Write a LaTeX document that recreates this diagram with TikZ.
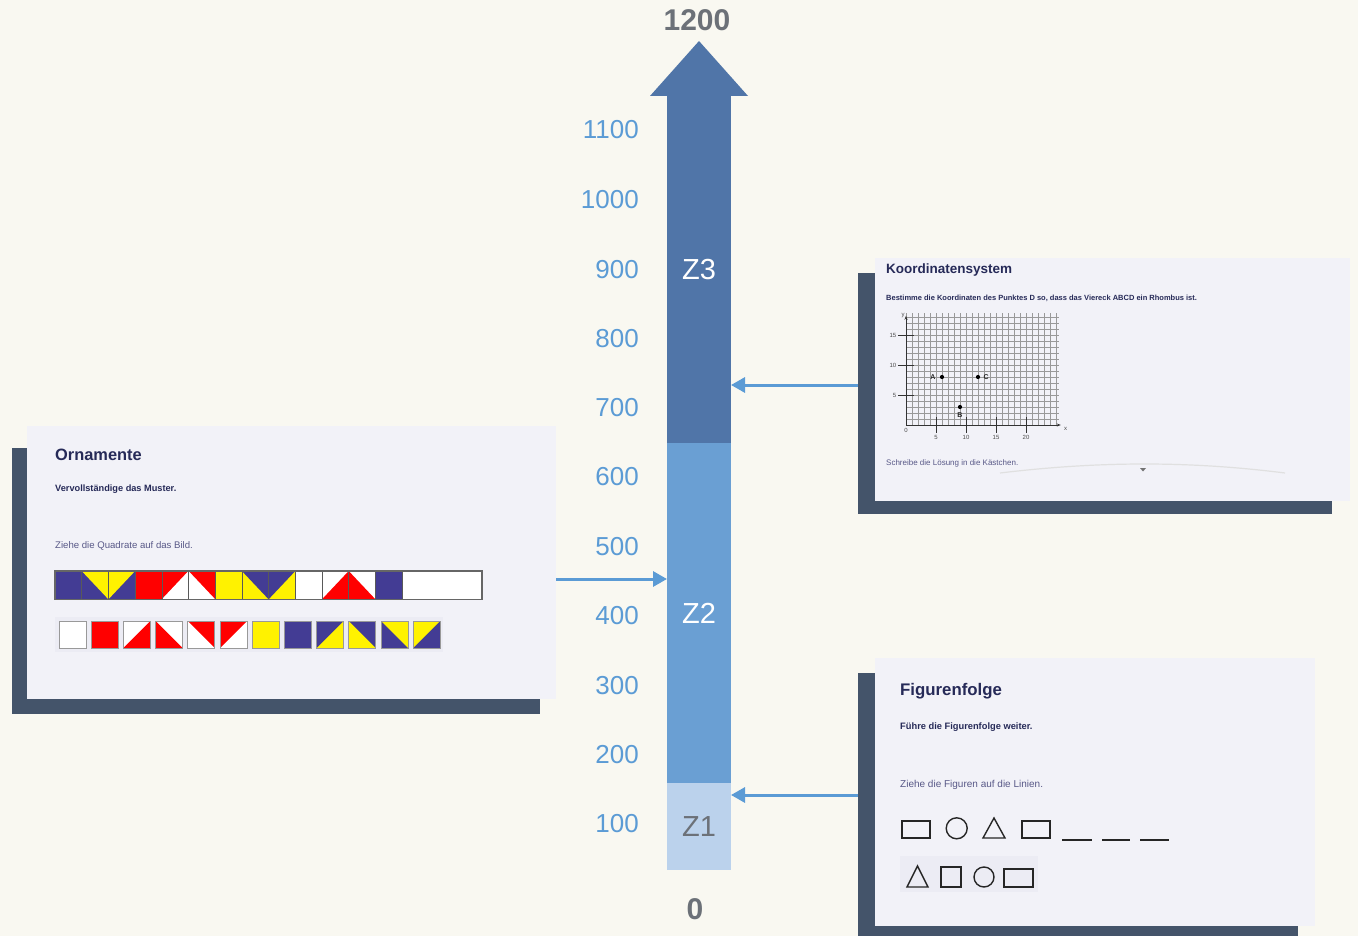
\documentclass[tikz,border=0pt]{standalone}
\usepackage{fontspec}
\setmainfont{Liberation Sans}
\usetikzlibrary{arrows.meta}
\definecolor{bgcream}{RGB}{249,248,241}
\definecolor{zthree}{RGB}{80,117,168}
\definecolor{ztwo}{RGB}{106,159,211}
\definecolor{zone}{RGB}{187,210,236}
\definecolor{ticknum}{RGB}{91,155,213}
\definecolor{endnum}{RGB}{108,113,120}
\definecolor{shade}{RGB}{68,84,106}
\definecolor{card}{RGB}{242,242,248}
\definecolor{ink}{RGB}{38,42,88}
\definecolor{inklight}{RGB}{88,88,135}
\definecolor{navy}{RGB}{67,60,148}
\definecolor{traybg}{RGB}{236,236,244}
\def\fs#1{\fontsize{#1}{#1}\selectfont}

\begin{document}
\begin{tikzpicture}[x=1pt, y=-1pt,
    zonebox/.style={inner sep=0pt, outer sep=0pt, minimum width=64pt, font=\fs{29}},
    ticklbl/.style={anchor=east, inner sep=0pt, text=ticknum, font=\fs{26}},
    endlbl/.style={inner sep=0pt, text=endnum, font=\bfseries\fs{30}},
    shadebox/.style={fill=shade, anchor=north west, inner sep=0pt, outer sep=0pt},
    cardbox/.style={fill=card, anchor=north west, inner sep=0pt, outer sep=0pt},
    ttl/.style={anchor=west, inner sep=0pt, text=ink, font=\bfseries\fs{#1}},
    sub/.style={anchor=west, inner sep=0pt, text=ink, font=\bfseries\fs{#1}},
    hint/.style={anchor=west, inner sep=0pt, text=inklight, font=\fs{#1}},
    feed/.style={draw=ticknum, line width=3pt, -{Triangle[length=14pt,width=15pt]}},
    cellline/.style={draw=black!65, line width=0.5pt},
    traycell/.style={draw=black!40, line width=1pt},
    figline/.style={draw=black!85, line width=1.4pt},
    gridline/.style={draw=black!40, line width=0.35pt},
    smallnum/.style={inner sep=0.5pt, text=black!70, font=\fs{6}},
    ptlbl/.style={inner sep=0.5pt, text=black!85, font=\bfseries\fs{7}}]
  \useasboundingbox (0,0) rectangle (1358,936);
  \fill[bgcream] (0,0) rectangle (1358,936);

  % scale bar
  \node[zonebox, fill=zone, minimum height=87pt, text=endnum] (z1) at (699,826.5) {Z1};
  \node[zonebox, fill=ztwo, minimum height=340pt, text=white] (z2) at (699,613) {Z2};
  \node[zonebox, fill=zthree, minimum height=347pt, text=white] (z3) at (699,269.5) {Z3};
  \fill[zthree] ([xshift=-17pt]z3.north west) -- ([yshift=55pt]z3.north) -- ([xshift=17pt]z3.north east) -- cycle;
  \node[endlbl] (top) at (697,20) {1200};
  \node[endlbl] (bottom) at (695,909) {0};
  \foreach \v/\h in {100/824,200/755,300/686,400/616,500/547,600/477,700/408,800/339,900/270,1000/200,1100/130}
    \node[ticklbl] (t\v) at (639,\h) {\v};

  % task cards
  \node[shadebox, minimum width=528pt, minimum height=266pt] (ornshade) at (12,448) {};
  \node[cardbox, minimum width=529pt, minimum height=273pt] (orn) at (27,426) {};
  \node[shadebox, minimum width=474pt, minimum height=241pt] (kosshade) at (858,273) {};
  \node[cardbox, minimum width=475pt, minimum height=243pt] (kos) at (875,258) {};
  \node[shadebox, minimum width=440pt, minimum height=263pt] (figshade) at (858,673) {};
  \node[cardbox, minimum width=440pt, minimum height=268pt] (fig) at (875,658) {};

  % Ornamente
  \node[ttl=16.4] (orntitle) at (55,455) {Ornamente};
  \node[sub=9.2] (ornsub) at (55,489) {Vervollständige das Muster.};
  \node[hint=9.6] (ornhint) at (55,546) {Ziehe die Quadrate auf das Bild.};
  \begin{scope}[shift={(55,571)}]
    \fill[white] (0,0) rectangle (427,28.3);
    \foreach \bg/\fg/\tri [count=\i from 0] in {
        navy/navy/(tl)--(tr)--(br), navy/yellow/(tl)--(tr)--(br), navy/yellow/(tl)--(tr)--(bl),
        red/red/(tl)--(tr)--(br), red/white/(bl)--(br)--(tr), red/white/(tl)--(bl)--(br),
        yellow/yellow/(tl)--(tr)--(br), yellow/navy/(tl)--(tr)--(br), yellow/navy/(tl)--(tr)--(bl),
        white/white/(tl)--(tr)--(br), white/red/(bl)--(br)--(tr), white/red/(tl)--(bl)--(br),
        navy/navy/(tl)--(tr)--(br)}{
      \begin{scope}[shift={(\i*26.7,0)}, x=26.7pt, y=-28.3pt]
        \coordinate (tl) at (0,0); \coordinate (tr) at (1,0);
        \coordinate (br) at (1,1); \coordinate (bl) at (0,1);
        \fill[\bg] (tl) rectangle (br);
        \fill[\fg] \tri -- cycle;
        \draw[cellline] (tl) rectangle (br);
      \end{scope}}
    \draw[draw=black!60, line width=1.5pt] (0,0) rectangle (427,28.3);
  \end{scope}
  \fill[traybg] (55,617) rectangle (443,652);
  \foreach \bg/\fg/\tri [count=\i from 0] in {
      white/white/(tl)--(tr)--(br), red/red/(tl)--(tr)--(br),
      white/red/(bl)--(br)--(tr), white/red/(tl)--(bl)--(br),
      white/red/(tl)--(tr)--(br), white/red/(tl)--(tr)--(bl),
      yellow/yellow/(tl)--(tr)--(br), navy/navy/(tl)--(tr)--(br),
      yellow/navy/(tl)--(tr)--(bl), yellow/navy/(tl)--(tr)--(br),
      navy/yellow/(tl)--(tr)--(br), navy/yellow/(tl)--(tr)--(bl)}{
    \begin{scope}[shift={(59+\i*32.2,621)}, x=27pt, y=-27pt]
      \coordinate (tl) at (0,0); \coordinate (tr) at (1,0);
      \coordinate (br) at (1,1); \coordinate (bl) at (0,1);
      \fill[\bg] (tl) rectangle (br);
      \fill[\fg] \tri -- cycle;
      \draw[traycell] (tl) rectangle (br);
    \end{scope}}

  % Koordinatensystem
  \node[ttl=13.5] (kostitle) at (886,270) {Koordinatensystem};
  \node[sub=7.5] (kossub) at (886,298) {Bestimme die Koordinaten des Punktes D so, dass das Viereck ABCD ein Rhombus ist.};
  \begin{scope}[shift={(906,425)}, x=6pt, y=6pt]
    \draw[gridline, step=1] (0,0) grid (25.5,18.6);
    \draw[black!80, line width=0.7pt, -{Stealth[length=4pt,width=3pt]}] (0,0) -- (25.8,0);
    \draw[black!80, line width=0.7pt, -{Stealth[length=4pt,width=3pt]}] (0,0) -- (0,18.2);
    \foreach \t in {5,10,15,20} {
      \draw[black!80, line width=0.7pt] (\t,-1.3) -- (\t,1.3);
      \node[smallnum] (xl\t) at (\t,-2.1) {\t};}
    \foreach \t in {5,10,15} {
      \draw[black!80, line width=0.7pt] (-1.3,\t) -- (1.3,\t);
      \node[smallnum, anchor=east] (yl\t) at (-1.5,\t) {\t};}
    \node[smallnum] (orig) at (0,-0.9) {0};
    \node[smallnum] (xname) at (26.6,-0.6) {x};
    \node[smallnum] (yname) at (-0.5,18.3) {y};
    \fill (6,8) circle (0.35);
    \fill (12,8) circle (0.35);
    \fill (9,3) circle (0.35);
    \node[ptlbl, anchor=east] (ptA) at (5,8) {A};
    \node[ptlbl, anchor=west] (ptC) at (12.8,8) {C};
    \node[ptlbl, anchor=north] (ptB) at (9,2.1) {B};
  \end{scope}
  \node[hint=8] (koshint) at (886,463) {Schreibe die Lösung in die Kästchen.};
  \draw[black!12, line width=1.2pt] (1000,473) .. controls (1100,461) and (1190,461) .. (1285,473);
  \fill[black!55] (1140,468) -- (1146,468) -- (1143,471.5) -- cycle;

  % Figurenfolge
  \node[ttl=16.8] (figtitle) at (900,691) {Figurenfolge};
  \node[sub=9.3] (figsub) at (900,727) {Führe die Figurenfolge weiter.};
  \node[hint=10] (fighint) at (900,785) {Ziehe die Figuren auf die Linien.};
  \draw[figline] (902,821) rectangle (930,838);
  \draw[figline] (956.7,828.3) circle (10.5);
  \draw[figline] (983,838) -- (994,818) -- (1005,838) -- cycle;
  \draw[figline] (1022,821) rectangle (1050,838);
  \foreach \a/\b in {1062/1092,1102/1130,1140/1169}
    \draw[figline] (\a,840) -- (\b,840);
  \fill[traybg] (900,856) rectangle (1038,892);
  \draw[figline] (907,887) -- (917.5,866) -- (928,887) -- cycle;
  \draw[figline] (941,867) rectangle (961,887);
  \draw[figline] (984,877) circle (10);
  \draw[figline] (1004,869) rectangle (1033,887);

  % connectors
  \coordinate (lv2) at (0,579);
  \coordinate (lv3) at (0,385);
  \coordinate (lv1) at (0,795);
  \draw[feed] (orn.east |- lv2) -- (z2.west |- lv2);
  \draw[feed] (kosshade.west |- lv3) -- (z3.east |- lv3);
  \draw[feed] (figshade.west |- lv1) -- (z1.east |- lv1);
\end{tikzpicture}
\end{document}
